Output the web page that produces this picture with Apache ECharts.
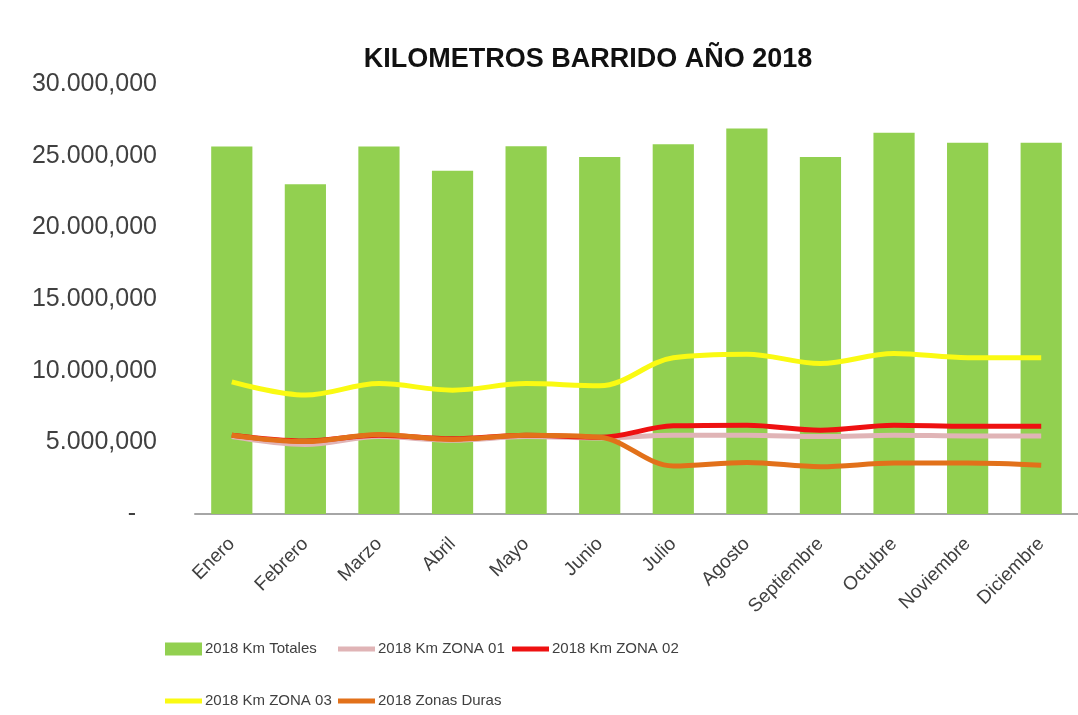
<!DOCTYPE html>
<html>
<head>
<meta charset="utf-8">
<script src="https://cdn.jsdelivr.net/npm/echarts@6/dist/echarts.min.js"></script>
<style>
  html, body { margin: 0; padding: 0; background: #fff; }
  #chart { width: 1078px; height: 715px; }
</style>
</head>
<body>
<div id="chart"></div>
<script>
var meses = ['Enero', 'Febrero', 'Marzo', 'Abril', 'Mayo', 'Junio', 'Julio',
  'Agosto', 'Septiembre', 'Octubre', 'Noviembre', 'Diciembre'];

// valores, en km
var kmTotales = [25640000, 23000000, 25640000, 23940000, 25660000, 24900000,
  25800000, 26900000, 24900000, 26600000, 25900000, 25900000];
var kmZona01 = [5400000, 4850000, 5400000, 5150000, 5400000, 5300000,
  5500000, 5500000, 5400000, 5500000, 5450000, 5450000];
var kmZona02 = [5500000, 5100000, 5500000, 5250000, 5500000, 5350000,
  6150000, 6200000, 5850000, 6200000, 6130000, 6130000];
var kmZona03 = [9220000, 8300000, 9100000, 8640000, 9100000, 8950000,
  10900000, 11150000, 10500000, 11200000, 10900000, 10900000];
var zonasDuras = [5500000, 5050000, 5550000, 5200000, 5500000, 5350000,
  3350000, 3600000, 3300000, 3550000, 3550000, 3400000];

var fontBase = "'Liberation Sans', Arial, sans-serif";

function fmtKm(v) {
  if (v === 0) return '-   ';
  var m = Math.floor(v / 1000000);
  return m + '.000,000';
}

function linea(nombre, datos, color) {
  return {
    name: nombre,
    type: 'line',
    data: datos,
    smooth: 0.35,
    symbol: 'none',
    lineStyle: { color: color, width: 5 },
    itemStyle: { color: color }
  };
}

// una leyenda por elemento para colocarlas como en la imagen
function leyenda(nombre, x, y, alto) {
  return {
    data: [{ name: nombre, icon: 'rect' }],
    left: x, top: y - 11.5,
    itemWidth: 37, itemHeight: alto, itemGap: 0,
    textStyle: { fontFamily: fontBase, fontSize: 15, color: '#404040', padding: [0, 0, 0, -2] }
  };
}

var chart = echarts.init(document.getElementById('chart'));

chart.setOption({
  backgroundColor: '#fff',
  animation: false,
  title: {
    text: 'KILOMETROS BARRIDO AÑO 2018',
    left: 583, top: 41, textAlign: 'center',
    textStyle: { fontFamily: fontBase, fontSize: 27, fontWeight: 'bold', color: '#111' }
  },
  legend: [
    leyenda('2018 Km Totales', 160, 648, 13),
    leyenda('2018 Km ZONA 01', 333, 648, 5),
    leyenda('2018 Km ZONA 02', 507, 648, 5),
    leyenda('2018 Km ZONA 03', 160, 700, 5),
    leyenda('2018 Zonas Duras', 333, 700, 5)
  ],
  grid: { left: 195, right: -13, top: 84, bottom: 201 },
  xAxis: {
    type: 'category',
    data: meses,
    axisLine: { lineStyle: { color: '#a6a6a6', width: 2 } },
    axisTick: { show: false },
    axisLabel: { rotate: 45, margin: 27, fontFamily: fontBase, fontSize: 19, color: '#404040' }
  },
  yAxis: {
    type: 'value',
    min: 0, max: 30000000, interval: 5000000,
    axisLine: { show: false },
    axisTick: { show: false },
    splitLine: { show: false },
    axisLabel: { margin: 38, formatter: fmtKm, fontFamily: fontBase, fontSize: 25, color: '#404040' }
  },
  series: [
    {
      name: '2018 Km Totales',
      type: 'bar',
      data: kmTotales,
      barWidth: '56%',
      itemStyle: { color: '#92D050' }
    },
    linea('2018 Km ZONA 01', kmZona01, '#E0B4B6'),
    linea('2018 Km ZONA 02', kmZona02, '#EE1111'),
    linea('2018 Km ZONA 03', kmZona03, '#FAFA12'),
    linea('2018 Zonas Duras', zonasDuras, '#E2711A')
  ]
});
</script>
</body>
</html>
